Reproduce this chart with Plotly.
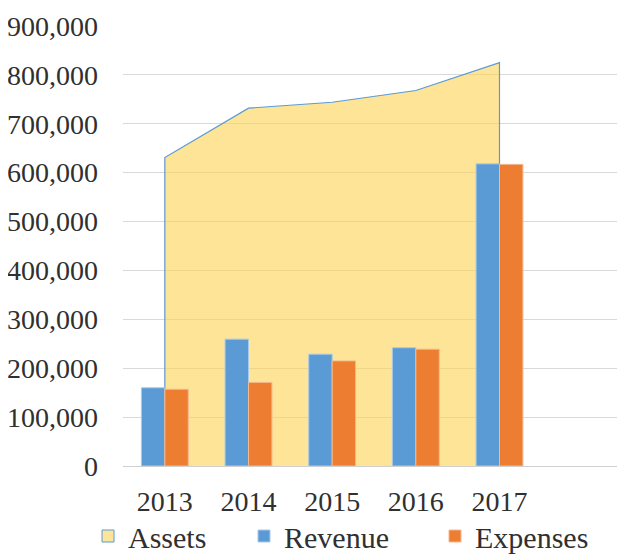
import plotly.graph_objects as go

years = ["2013", "2014", "2015", "2016", "2017"]
categories = years + [" "]
assets = [631000, 732000, 744000, 768000, 825000]
revenue = [160000, 259500, 228700, 242000, 618000]
expenses = [157000, 171000, 215000, 239000, 617000]
y_ticks = [0, 100000, 200000, 300000, 400000, 500000, 600000, 700000, 800000, 900000]

FONT = "Liberation Serif"
TXT = "#303030"
AREA_FILL = "rgba(251,210,80,0.6)"
BLUE = "#5B9BD5"
ORANGE = "#ED7D31"
FIG_W, FIG_H = 617, 548

# closed polygon for the area (vertical edges down to zero at both ends)
area_x = [years[0]] + years + [years[-1]]
area_y = [0] + assets + [0]

fig = go.Figure()
# area on the base subplot (drawn underneath)
fig.add_trace(go.Scatter(
    x=area_x, y=area_y, name="Assets", mode="lines", fill="toself",
    fillcolor=AREA_FILL, line=dict(color=BLUE, width=1.2),
    hoverinfo="skip", showlegend=False, xaxis="x", yaxis="y",
))
# legend entry for Assets (square swatch)
fig.add_trace(go.Bar(
    x=[None], y=[None], name="Assets", legend="legend",
    marker=dict(color="#FDE49B", line=dict(color=BLUE, width=1)),
    xaxis="x", yaxis="y",
))
# bars on an overlaying subplot so they are drawn above the area
fig.add_trace(go.Bar(
    x=years, y=revenue, name="Revenue", legend="legend2",
    marker=dict(color=BLUE, line=dict(color="#a9c9ea", width=1)),
    xaxis="x2", yaxis="y2",
))
fig.add_trace(go.Bar(
    x=years, y=expenses, name="Expenses", legend="legend3",
    marker=dict(color=ORANGE, line=dict(color="#f6b88e", width=1)),
    xaxis="x2", yaxis="y2",
))


def legend_at(px):
    return dict(orientation="h", x=px / FIG_W, xref="container", xanchor="left",
                y=20 / FIG_H, yanchor="middle", yref="container",
                font=dict(size=30, family=FONT, color=TXT),
                itemwidth=30, bgcolor="rgba(0,0,0,0)")


# page body has an 8px margin, so the figure is sized to fill the rest of the window
fig.update_layout(
    width=FIG_W, height=FIG_H,
    margin=dict(l=115, r=0, t=18, b=90, autoexpand=False),
    paper_bgcolor="white", plot_bgcolor="white",
    barmode="group", bargap=0.44, bargroupgap=0,
    font=dict(family=FONT, color=TXT, size=28),
    showlegend=True,
    legend=legend_at(80),
    legend2=legend_at(236),
    legend3=legend_at(427),
    xaxis=dict(
        type="category", categoryorder="array", categoryarray=categories,
        range=[-0.5, 5.5], showgrid=False, showline=True, linecolor="#d0d0d0", linewidth=1,
        ticks="", ticklabelstandoff=10, tickfont=dict(size=28, family=FONT, color=TXT),
        layer="above traces",
    ),
    yaxis=dict(
        range=[0, 900000], tickvals=y_ticks, tickformat=",d", showgrid=True,
        gridcolor="#d9d9d9", gridwidth=1, zeroline=False, showline=False,
        ticks="", ticklabelstandoff=24, tickfont=dict(size=28, family=FONT, color=TXT),
    ),
    xaxis2=dict(
        type="category", categoryorder="array", categoryarray=categories,
        range=[-0.5, 5.5], overlaying="x", showgrid=False, showline=False,
        showticklabels=False, ticks="",
    ),
    yaxis2=dict(
        range=[0, 900000], overlaying="y", showgrid=False, zeroline=False,
        showline=False, showticklabels=False, ticks="",
    ),
)

fig.write_html("out.html")
